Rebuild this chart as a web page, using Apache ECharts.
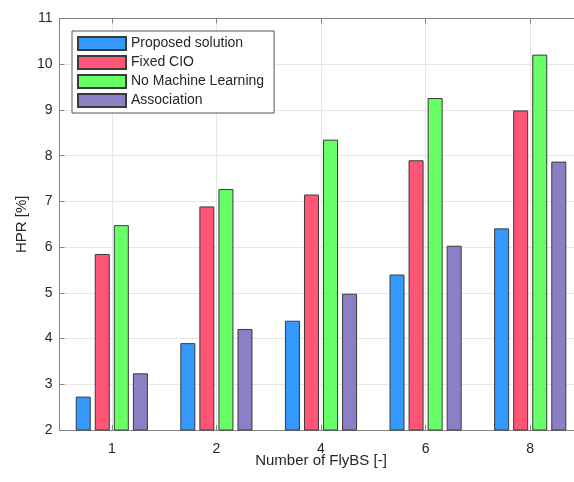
<!DOCTYPE html>
<html>
<head>
<meta charset="utf-8">
<script src="https://cdn.jsdelivr.net/npm/echarts@6/dist/echarts.min.js"></script>
<style>html,body{margin:0;padding:0;background:#fff;}#c{width:574px;height:482px;}</style>
</head>
<body>
<div id="c"></div>
<script>
var categories = ['1', '2', '4', '6', '8'];
var seriesNames = ['Proposed solution', 'Fixed CIO', 'No Machine Learning', 'Association'];
var proposed = [2.73, 3.90, 4.39, 5.40, 6.41];
var fixedCIO = [5.85, 6.89, 7.15, 7.90, 8.99];
var noML = [6.48, 7.27, 8.35, 9.26, 10.21];
var association = [3.24, 4.21, 4.98, 6.03, 7.87];
var colors = ['#3399ff', '#ff5577', '#66ff66', '#8a80c6'];
var yMin = 2, yMax = 11, yStep = 1;

var font = 'Liberation Sans, Arial, Helvetica, sans-serif';
var axisCol = '#858585';
var textCol = '#262626';
var values = [proposed, fixedCIO, noML, association];

var chart = echarts.init(document.getElementById('c'), null, {renderer: 'canvas'});
chart.setOption({
  animation: false,
  backgroundColor: '#ffffff',
  textStyle: {fontFamily: font},
  grid: {left: 59.5, right: -8.5, top: 18.5, bottom: 52, containLabel: false, outerBoundsMode: 'none'},
  legend: {
    orient: 'vertical',
    left: 72, top: 31,
    padding: [5, 10, 5, 5],
    itemWidth: 48, itemHeight: 13, itemGap: 4,
    backgroundColor: '#ffffff',
    borderColor: '#555555', borderWidth: 1, borderRadius: 0,
    textStyle: {fontSize: 14, color: textCol, fontFamily: font},
    icon: 'rect',
    data: seriesNames
  },
  xAxis: [{
    type: 'category',
    data: categories,
    position: 'bottom',
    name: 'Number of FlyBS [-]',
    nameLocation: 'middle',
    nameGap: 23,
    nameMoveOverlap: false,
    nameTextStyle: {fontSize: 15, color: textCol, fontFamily: font},
    axisLine: {show: true, lineStyle: {color: axisCol, width: 1}},
    axisTick: {show: true, inside: true, length: 5, alignWithLabel: true, lineStyle: {color: axisCol}},
    axisLabel: {fontSize: 14, color: textCol, margin: 12, fontFamily: font},
    splitLine: {show: true, alignWithLabel: true, lineStyle: {color: '#e6e6e6', width: 1}}
  }, {
    type: 'category',
    data: categories,
    position: 'top',
    axisLine: {show: true, lineStyle: {color: axisCol, width: 1}},
    axisTick: {show: true, inside: true, length: 5, alignWithLabel: true, lineStyle: {color: axisCol}},
    axisLabel: {show: false},
    splitLine: {show: false}
  }],
  yAxis: {
    type: 'value',
    min: yMin, max: yMax, interval: yStep,
    name: 'HPR [%]',
    nameLocation: 'middle',
    nameGap: 30,
    nameMoveOverlap: false,
    nameTextStyle: {fontSize: 15, color: textCol, fontFamily: font},
    axisLine: {show: true, lineStyle: {color: axisCol, width: 1}},
    axisTick: {show: true, inside: true, length: 5, lineStyle: {color: axisCol}},
    axisLabel: {fontSize: 14, color: textCol, margin: 7, fontFamily: font},
    splitLine: {show: true, lineStyle: {color: '#e6e6e6', width: 1}}
  },
  series: seriesNames.map(function (n, i) {
    return {
      name: n,
      type: 'bar',
      xAxisIndex: 0,
      data: values[i],
      barWidth: 15,
      barGap: '27%',
      itemStyle: {color: colors[i], borderColor: '#3a3a3a', borderWidth: 1},
      emphasis: {disabled: true}
    };
  })
});
</script>
</body>
</html>
